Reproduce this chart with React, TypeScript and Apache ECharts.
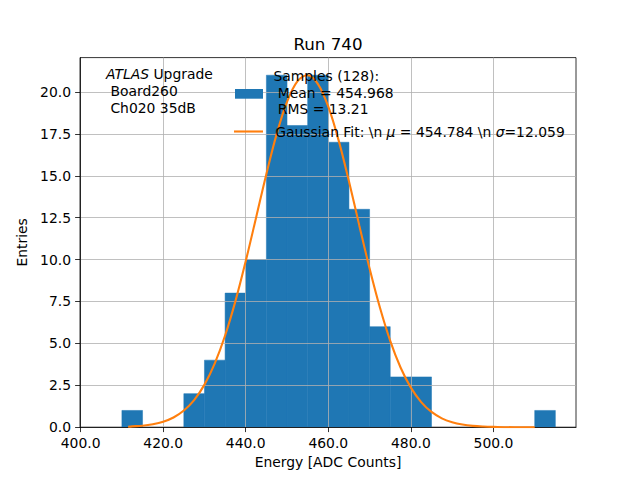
import React, { useEffect, useRef } from 'react';
import * as echarts from 'echarts';

const titleText = 'Run 740';
const xName = 'Energy [ADC Counts]';
const yName = 'Entries';

// histogram bins (start of each 5-count-wide bin) and entries
const binStarts = [405, 410, 415, 420, 425, 430, 435, 440, 445, 450, 455, 460, 465, 470, 475, 480, 485, 490, 495, 500, 505, 510];
const binWidth = 5;
const counts = [0, 1, 0, 0, 2, 4, 8, 10, 21, 18, 21, 17, 13, 6, 3, 3, 0, 0, 0, 0, 0, 1];

// gaussian fit curve
const fitX = [411.5, 412.5, 415, 417.5, 420, 422.5, 425, 427.5, 430, 432.5, 435, 437.5, 440, 442.5, 445, 447.5, 450, 452.5, 455, 457.5, 460, 462.5, 465, 467.5, 470, 472.5, 475, 477.5, 480, 482.5, 485, 487.5, 490, 492.5, 495, 497.5, 500, 505, 510];
const fitY = [0.03, 0.05, 0.09, 0.18, 0.33, 0.58, 1.0, 1.62, 2.54, 3.81, 5.47, 7.52, 9.91, 12.5, 15.11, 17.5, 19.41, 20.63, 21.0, 20.47, 19.12, 17.11, 14.67, 12.04, 9.47, 7.14, 5.15, 3.56, 2.36, 1.5, 0.91, 0.53, 0.3, 0.16, 0.08, 0.04, 0.02, 0.0, 0.0];

const xTicks = [400, 420, 440, 460, 480, 500];
const yTicks = [0, 2.5, 5, 7.5, 10, 12.5, 15, 17.5, 20];

const NB = '\u00a0';
const atlasText = '{i|ATLAS}' + NB + 'Upgrade\n' + NB + 'Board260\n' + NB + 'Ch020 35dB';
const histLegend = 'Samples (128):\n' + NB + 'Mean = 454.968\n' + NB + 'RMS = 13.21';
const fitLegend = 'Gaussian Fit: \\n' + NB + '{i|\u03bc}' + NB + '= 454.784 \\n' + NB + '{i|\u03c3}=12.059';

const FONT = '"DejaVu Sans", sans-serif';
const BLUE = '#1f77b4';
const ORANGE = '#ff7f0e';

export default function App() {
  const ref = useRef<HTMLDivElement>(null);
  useEffect(() => {
    if (!ref.current) return;
    const chart = echarts.init(ref.current, null, { renderer: 'svg' });
    const histData = binStarts.map((s, i) => [s, s + binWidth, counts[i]]);
    const fitData = fitX.map((x, i) => [x, fitY[i]]);
    chart.setOption({
      animation: false,
      backgroundColor: '#ffffff',
      grid: {
        left: 80,
        right: 64,
        top: 57.6,
        bottom: 52.8,
        show: true,
        borderColor: '#000',
        borderWidth: 0.8,
        backgroundColor: 'transparent',
      },
      xAxis: {
        type: 'value',
        min: 399.85,
        max: 520,
        interval: 20,
        z: 3,
        name: xName,
        nameLocation: 'middle',
        nameGap: 27,
        nameTextStyle: { fontFamily: FONT, fontSize: 13.9, color: '#000' },
        axisLine: { show: true, onZero: false, lineStyle: { color: '#000', width: 0.8 } },
        axisTick: { show: true, length: 4.9, lineStyle: { color: '#000', width: 0.8 }, customValues: xTicks },
        axisLabel: {
          show: true,
          margin: 9,
          fontFamily: FONT,
          fontSize: 13.9,
          color: '#000',
          customValues: xTicks,
          formatter: (v: number) => (xTicks.indexOf(Math.round(v * 100) / 100) >= 0 ? v.toFixed(1) : ''),
        },
        splitLine: { show: true, lineStyle: { color: '#b0b0b0', width: 0.8 } },
      },
      yAxis: {
        type: 'value',
        min: 0,
        max: 22.05,
        interval: 2.5,
        z: 3,
        name: yName,
        nameLocation: 'middle',
        nameGap: 43.5,
        nameTextStyle: { fontFamily: FONT, fontSize: 13.9, color: '#000' },
        axisLine: { show: true, lineStyle: { color: '#000', width: 0.8 } },
        axisTick: { show: true, length: 4.9, lineStyle: { color: '#000', width: 0.8 }, customValues: yTicks },
        axisLabel: {
          show: true,
          margin: 9,
          fontFamily: FONT,
          fontSize: 13.9,
          color: '#000',
          customValues: yTicks,
          formatter: (v: number) => (yTicks.indexOf(Math.round(v * 100) / 100) >= 0 ? v.toFixed(1) : ''),
        },
        splitLine: { show: true, lineStyle: { color: '#b0b0b0', width: 0.8 } },
      },
      series: [
        {
          type: 'custom',
          name: 'hist',
          z: 2,
          data: histData,
          encode: { x: [0, 1], y: 2 },
          renderItem: (params: any, api: any) => {
            const a = api.coord([api.value(0), api.value(2)]);
            const b = api.coord([api.value(1), 0]);
            return {
              type: 'rect',
              shape: { x: a[0], y: a[1], width: b[0] - a[0], height: b[1] - a[1] },
              style: { fill: BLUE, stroke: api.value(2) > 0 ? BLUE : 'none', lineWidth: 0.5 },
            };
          },
        },
        {
          type: 'line',
          name: 'fit',
          z: 5,
          data: fitData,
          showSymbol: false,
          symbol: 'none',
          smooth: 0.35,
          lineStyle: { color: ORANGE, width: 2.1 },
        },
      ],
      graphic: [
        {
          type: 'text',
          z: 10,
          x: 328,
          y: 43.5,
          style: {
            text: titleText,
            fontFamily: FONT,
            fontSize: 16.7,
            fill: '#000',
            align: 'center',
            verticalAlign: 'middle',
          },
        },
        {
          type: 'text',
          z: 10,
          x: 106,
          y: 65.5,
          style: {
            text: atlasText,
            fontFamily: FONT,
            fontSize: 13.9,
            lineHeight: 17,
            fill: '#000',
            align: 'left',
            verticalAlign: 'top',
            rich: {
              i: { fontStyle: 'italic', fontFamily: FONT, fontSize: 13.9, lineHeight: 17, fill: '#000' },
            },
          },
        },
        {
          type: 'rect',
          z: 10,
          shape: { x: 235, y: 89, width: 28, height: 9.7 },
          style: { fill: BLUE },
        },
        {
          type: 'text',
          z: 10,
          x: 273.4,
          y: 67.6,
          style: {
            text: histLegend,
            fontFamily: FONT,
            fontSize: 13.9,
            lineHeight: 16.7,
            fill: '#000',
            align: 'left',
            verticalAlign: 'top',
          },
        },
        {
          type: 'line',
          z: 10,
          shape: { x1: 234, y1: 131.5, x2: 263, y2: 131.5 },
          style: { stroke: ORANGE, lineWidth: 2.1 },
        },
        {
          type: 'text',
          z: 10,
          x: 275.2,
          y: 131.5,
          style: {
            text: fitLegend,
            fontFamily: FONT,
            fontSize: 13.9,
            fill: '#000',
            align: 'left',
            verticalAlign: 'middle',
            rich: {
              i: { fontStyle: 'italic', fontFamily: FONT, fontSize: 13.9, fill: '#000' },
            },
          },
        },
      ],
    });
    return () => chart.dispose();
  }, []);
  return (
    <div
      ref={ref}
      style={{ position: 'fixed', left: 0, top: 0, width: 640, height: 480, background: '#fff' }}
    />
  );
}
